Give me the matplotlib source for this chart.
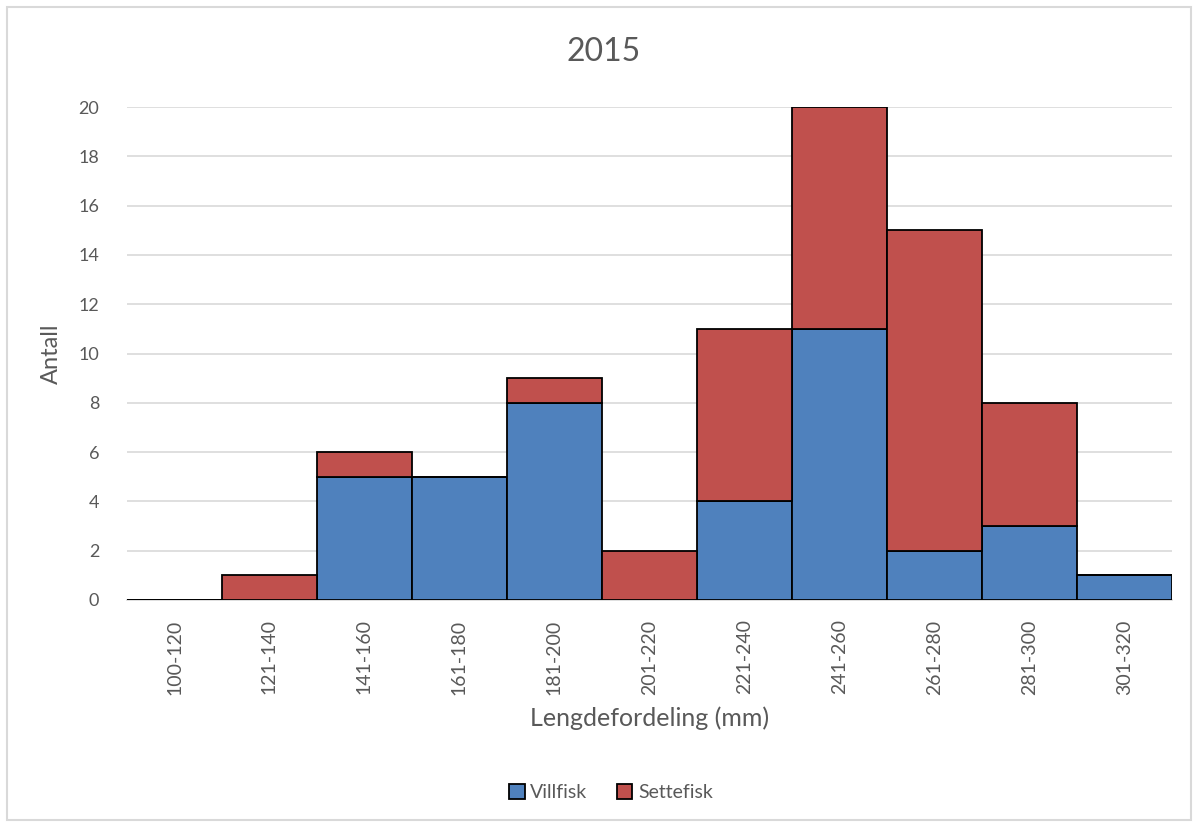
import matplotlib.pyplot as plt
from matplotlib.patches import Rectangle
import numpy as np

categories = ["100-120", "121-140", "141-160", "161-180", "181-200", "201-220",
              "221-240", "241-260", "261-280", "281-300", "301-320"]
villfisk = [0, 0, 5, 5, 8, 0, 4, 11, 2, 3, 1]
settefisk = [0, 1, 1, 0, 1, 2, 7, 9, 13, 5, 0]

blue = "#4F81BD"
red = "#C0504D"
grey = "#595959"

plt.rcParams["font.family"] = ["Lato", "DejaVu Sans"]

fig = plt.figure(figsize=(11.98, 8.27), dpi=100)
fig.patches.append(Rectangle((0.006, 0.008), 0.988, 0.984, transform=fig.transFigure,
                             fill=False, edgecolor="#D9D9D9", linewidth=1.5))
ax = fig.add_axes([0.106, 0.2745, 0.872, 0.596])

x = np.arange(len(categories))
ax.bar(x, villfisk, width=1.0, color=blue, edgecolor="black", linewidth=1.3,
       label="Villfisk", zorder=3)
ax.bar(x, settefisk, width=1.0, bottom=villfisk, color=red, edgecolor="black",
       linewidth=1.3, label="Settefisk", zorder=3)

ax.set_xlim(-0.5, len(categories) - 0.5)
ax.set_ylim(0, 20)
ax.set_yticks(range(0, 21, 2))
ax.set_xticks(x)
ax.set_xticklabels([""] * len(categories))
# category labels drawn as rotated text under each bar
for xi, cat in zip(x, categories):
    ax.annotate(cat, xy=(xi, 0), xycoords=("data", "axes fraction"),
                xytext=(0, -14), textcoords="offset points", rotation=90,
                ha="center", va="top", fontsize=14, color=grey)
ax.tick_params(axis="y", labelsize=13, labelcolor=grey, length=0, pad=20)
ax.tick_params(axis="x", length=0)
ax.grid(axis="y", color="#D9D9D9", linewidth=1.2, zorder=0)
for s in ["top", "right", "left"]:
    ax.spines[s].set_visible(False)
ax.spines["bottom"].set_color("#D9D9D9")
ax.spines["bottom"].set_linewidth(1.2)

fig.text(0.504, 0.937, "2015", fontsize=23, color=grey, ha="center", va="center")
ax.set_ylabel("Antall", fontsize=17, color=grey, labelpad=12)
ax.set_xlabel("Lengdefordeling (mm)", fontsize=18, color=grey)
ax.xaxis.set_label_coords(0.5, -0.215)

fig.legend(loc="center", bbox_to_anchor=(0.51, 0.042), ncol=2, frameon=False,
           fontsize=14, labelcolor=grey, handlelength=0.8, handleheight=0.8,
           handletextpad=0.3, columnspacing=1.5)

fig.savefig("out.png", dpi=100)
